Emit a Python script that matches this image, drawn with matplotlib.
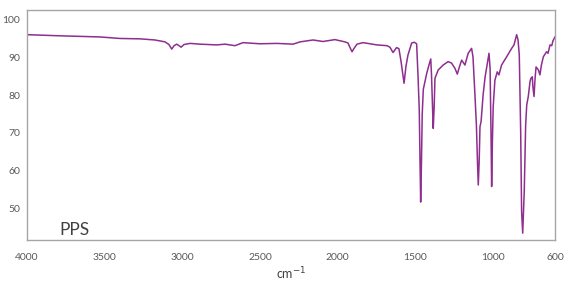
import matplotlib
matplotlib.use("Agg")
import matplotlib.pyplot as plt

# Wavenumber (cm^-1) and transmittance (%)
wavenumber = [4000, 3788, 3530, 3401, 3272, 3176, 3111, 3086, 3068, 3053, 3036, 3021, 3008,
              2989, 2950, 2886, 2779, 2725, 2661, 2609, 2500, 2390, 2287, 2242, 2158, 2094,
              2017, 1953, 1933, 1920, 1907, 1894, 1875, 1836, 1746, 1682, 1663, 1643, 1620,
              1605, 1592, 1572, 1560, 1547, 1523, 1506, 1491, 1482, 1474, 1469, 1465, 1460,
              1455, 1448, 1426, 1411, 1400, 1395, 1388, 1384, 1378, 1373, 1352, 1320, 1288,
              1266, 1244, 1229, 1215, 1201, 1180, 1159, 1137, 1128, 1115, 1106, 1099, 1094,
              1088, 1083, 1076, 1063, 1050, 1037, 1025, 1018, 1012, 1008, 1003, 998, 987,
              972, 961, 944, 911, 879, 864, 847, 838, 830, 821, 815, 808, 798, 789, 782,
              772, 761, 755, 746, 742, 735, 729, 722, 707, 697, 687, 675, 654, 645, 632,
              621, 613, 600]
transmittance = [95.9, 95.6, 95.3, 94.9, 94.8, 94.5, 94.0, 93.3, 92.1, 93.0, 93.4, 93.0, 92.6,
                 93.3, 93.6, 93.4, 93.2, 93.4, 93.0, 93.8, 93.5, 93.6, 93.4, 94.0, 94.5, 94.1,
                 94.6, 94.0, 93.7, 92.5, 91.4, 92.3, 93.4, 93.8, 93.2, 93.0, 92.6, 91.2, 92.5,
                 92.2, 89.0, 83.1, 87.5, 90.5, 93.7, 93.9, 93.5, 85.0, 76.0, 62.0, 51.8, 62.0,
                 75.0, 81.5, 85.7, 88.0, 89.5, 85.0, 76.0, 71.2, 77.0, 84.4, 86.6, 87.9, 88.8,
                 88.4, 87.0, 85.5, 87.5, 89.2, 87.9, 91.0, 92.3, 90.0, 79.6, 72.0, 62.0, 56.3,
                 63.0, 71.7, 73.0, 80.0, 84.8, 88.0, 91.0, 87.0, 70.0, 55.9, 68.0, 76.9, 83.9,
                 86.1, 85.3, 87.9, 90.1, 92.3, 93.2, 95.9, 94.5, 90.5, 70.3, 49.3, 43.6, 54.6,
                 72.1, 77.4, 79.6, 83.5, 84.4, 84.8, 82.0, 79.6, 84.0, 87.4, 86.6, 85.3, 88.0,
                 90.1, 91.4, 91.0, 93.2, 93.0, 94.3, 95.3]

x_ticks = [4000, 3500, 3000, 2500, 2000, 1500, 1000, 600]
y_ticks = [50, 60, 70, 80, 90, 100]

plt.rcParams['font.family'] = ['Lato', 'DejaVu Sans']

fig = plt.figure(figsize=(5.75, 2.9), dpi=100)
ax = fig.add_axes([27/575, 1 - 240/290, (555 - 27)/575, (240 - 10)/290])

ax.plot(wavenumber, transmittance, color='#8E2E8E', lw=1.1)

ax.set_xlim(4000, 600)
ax.set_ylim(41.8, 102.4)
ax.set_xticks(x_ticks)
ax.set_yticks(y_ticks)
ax.tick_params(length=0, labelsize=7.5, colors='#595959')
ax.tick_params(axis='x', pad=9)
ax.tick_params(axis='y', pad=5)

for s in ax.spines.values():
    s.set_color('#A6A6A6')
    s.set_linewidth(1.0)

ax.set_xlabel('cm$^{-1}$', fontsize=9, color='#404040', labelpad=3)
ax.text(0.061, 0.022, 'PPS', transform=ax.transAxes, fontsize=12.5,
        color='#404040', ha='left', va='baseline')

fig.savefig('out.png', dpi=100)
